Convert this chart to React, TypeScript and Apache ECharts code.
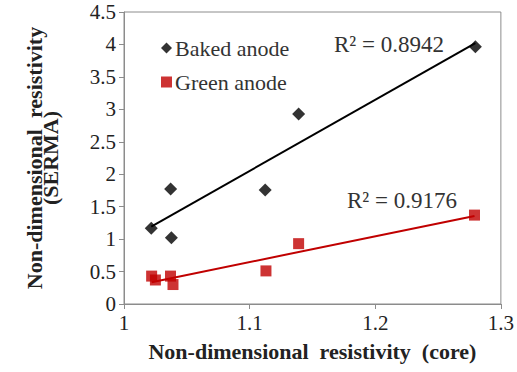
import React, { useEffect, useRef } from "react";
import * as echarts from "echarts";

// Non-dimensional resistivity: core vs SERMA
const bakedCore = [1.0217, 1.0371, 1.0377, 1.1124, 1.139, 1.2797];
const bakedSerma = [1.166, 1.772, 1.02, 1.756, 2.928, 3.965];
const greenCore = [1.022, 1.025, 1.037, 1.039, 1.113, 1.139, 1.279];
const greenSerma = [0.43, 0.37, 0.43, 0.3, 0.51, 0.93, 1.37];
const seriesNames = ["Baked anode", "Green anode"];
const rSquaredLabels = ["R² = 0.8942", "R² = 0.9176"];

const FONT = "Liberation Serif";
const BLACK = "#000000";
const RED = "#C00000";
const AXIS_GREY = "#8c8c8c";

// Least-squares line across the x range of the points
function trendLine(xs: number[], ys: number[]): number[][] {
  const n = xs.length;
  const mx = xs.reduce((a, b) => a + b, 0) / n;
  const my = ys.reduce((a, b) => a + b, 0) / n;
  let sxy = 0;
  let sxx = 0;
  for (let i = 0; i < n; i++) {
    sxy += (xs[i] - mx) * (ys[i] - my);
    sxx += (xs[i] - mx) * (xs[i] - mx);
  }
  const slope = sxy / sxx;
  const icpt = my - slope * mx;
  const x0 = Math.min(...xs);
  const x1 = Math.max(...xs);
  return [
    [x0, icpt + slope * x0],
    [x1, icpt + slope * x1],
  ];
}

const zip = (xs: number[], ys: number[]) => xs.map((x, i) => [x, ys[i]]);

export default function App() {
  const ref = useRef<HTMLDivElement>(null);

  useEffect(() => {
    if (!ref.current) return;
    const chart = echarts.init(ref.current, undefined, { renderer: "svg" });
    chart.setOption({
      animation: false,
      backgroundColor: "#ffffff",
      textStyle: { fontFamily: FONT },
      grid: {
        left: 124,
        right: 14,
        top: 12,
        bottom: 68,
        show: true,
        borderColor: AXIS_GREY,
        borderWidth: 1,
      },
      legend: {
        data: seriesNames,
        orient: "vertical",
        left: 156,
        top: 32,
        itemWidth: 11,
        itemHeight: 11,
        itemGap: 12,
        textStyle: { fontFamily: FONT, fontSize: 22, color: "#333333", padding: [0, 0, 0, -2] },
      },
      xAxis: {
        type: "value",
        min: 1,
        max: 1.3,
        interval: 0.1,
        name: "Non-dimensional  resistivity  (core)",
        nameLocation: "middle",
        nameGap: 36,
        nameTextStyle: { fontFamily: FONT, fontSize: 22, fontWeight: "bold", color: "#222222" },
        axisLine: { lineStyle: { color: AXIS_GREY, width: 1 } },
        axisTick: { show: true, length: 5, lineStyle: { color: AXIS_GREY } },
        axisLabel: { fontFamily: FONT, fontSize: 21, color: "#222222", margin: 8 },
        splitLine: { show: false },
      },
      yAxis: {
        type: "value",
        min: 0,
        max: 4.5,
        interval: 0.5,
        name: "Non-dimensional  resistivity\n(SERMA)",
        nameLocation: "middle",
        nameGap: 66,
        nameRotate: 90,
        nameTextStyle: {
          fontFamily: FONT,
          fontSize: 22,
          fontWeight: "bold",
          color: "#222222",
          lineHeight: 16,
          align: "center",
        },
        axisLine: { show: true, lineStyle: { color: AXIS_GREY, width: 1 } },
        axisTick: { show: true, length: 5, lineStyle: { color: AXIS_GREY } },
        axisLabel: { fontFamily: FONT, fontSize: 21, color: "#222222", margin: 8 },
        splitLine: { show: false },
      },
      series: [
        {
          name: seriesNames[0],
          type: "scatter",
          symbol: "diamond",
          symbolSize: 13,
          itemStyle: { color: BLACK },
          data: zip(bakedCore, bakedSerma),
          z: 3,
        },
        {
          name: seriesNames[1],
          type: "scatter",
          symbol: "rect",
          symbolSize: 11,
          itemStyle: { color: RED },
          data: zip(greenCore, greenSerma),
          z: 3,
        },
        {
          name: "baked-trend",
          type: "line",
          data: trendLine(bakedCore, bakedSerma),
          showSymbol: false,
          silent: true,
          lineStyle: { color: BLACK, width: 2 },
          z: 2,
        },
        {
          name: "green-trend",
          type: "line",
          data: trendLine(greenCore, greenSerma),
          showSymbol: false,
          silent: true,
          lineStyle: { color: RED, width: 2 },
          z: 2,
        },
      ],
      graphic: [
        {
          type: "text",
          left: 334,
          top: 33,
          style: { text: rSquaredLabels[0], fontFamily: FONT, fontSize: 23, fill: "#333333" },
        },
        {
          type: "text",
          left: 347,
          top: 189,
          style: { text: rSquaredLabels[1], fontFamily: FONT, fontSize: 23, fill: "#333333" },
        },
      ],
    });
    return () => chart.dispose();
  }, []);

  return (
    <div
      ref={ref}
      style={{ position: "fixed", left: 0, top: 0, width: 517, height: 372 }}
    />
  );
}
